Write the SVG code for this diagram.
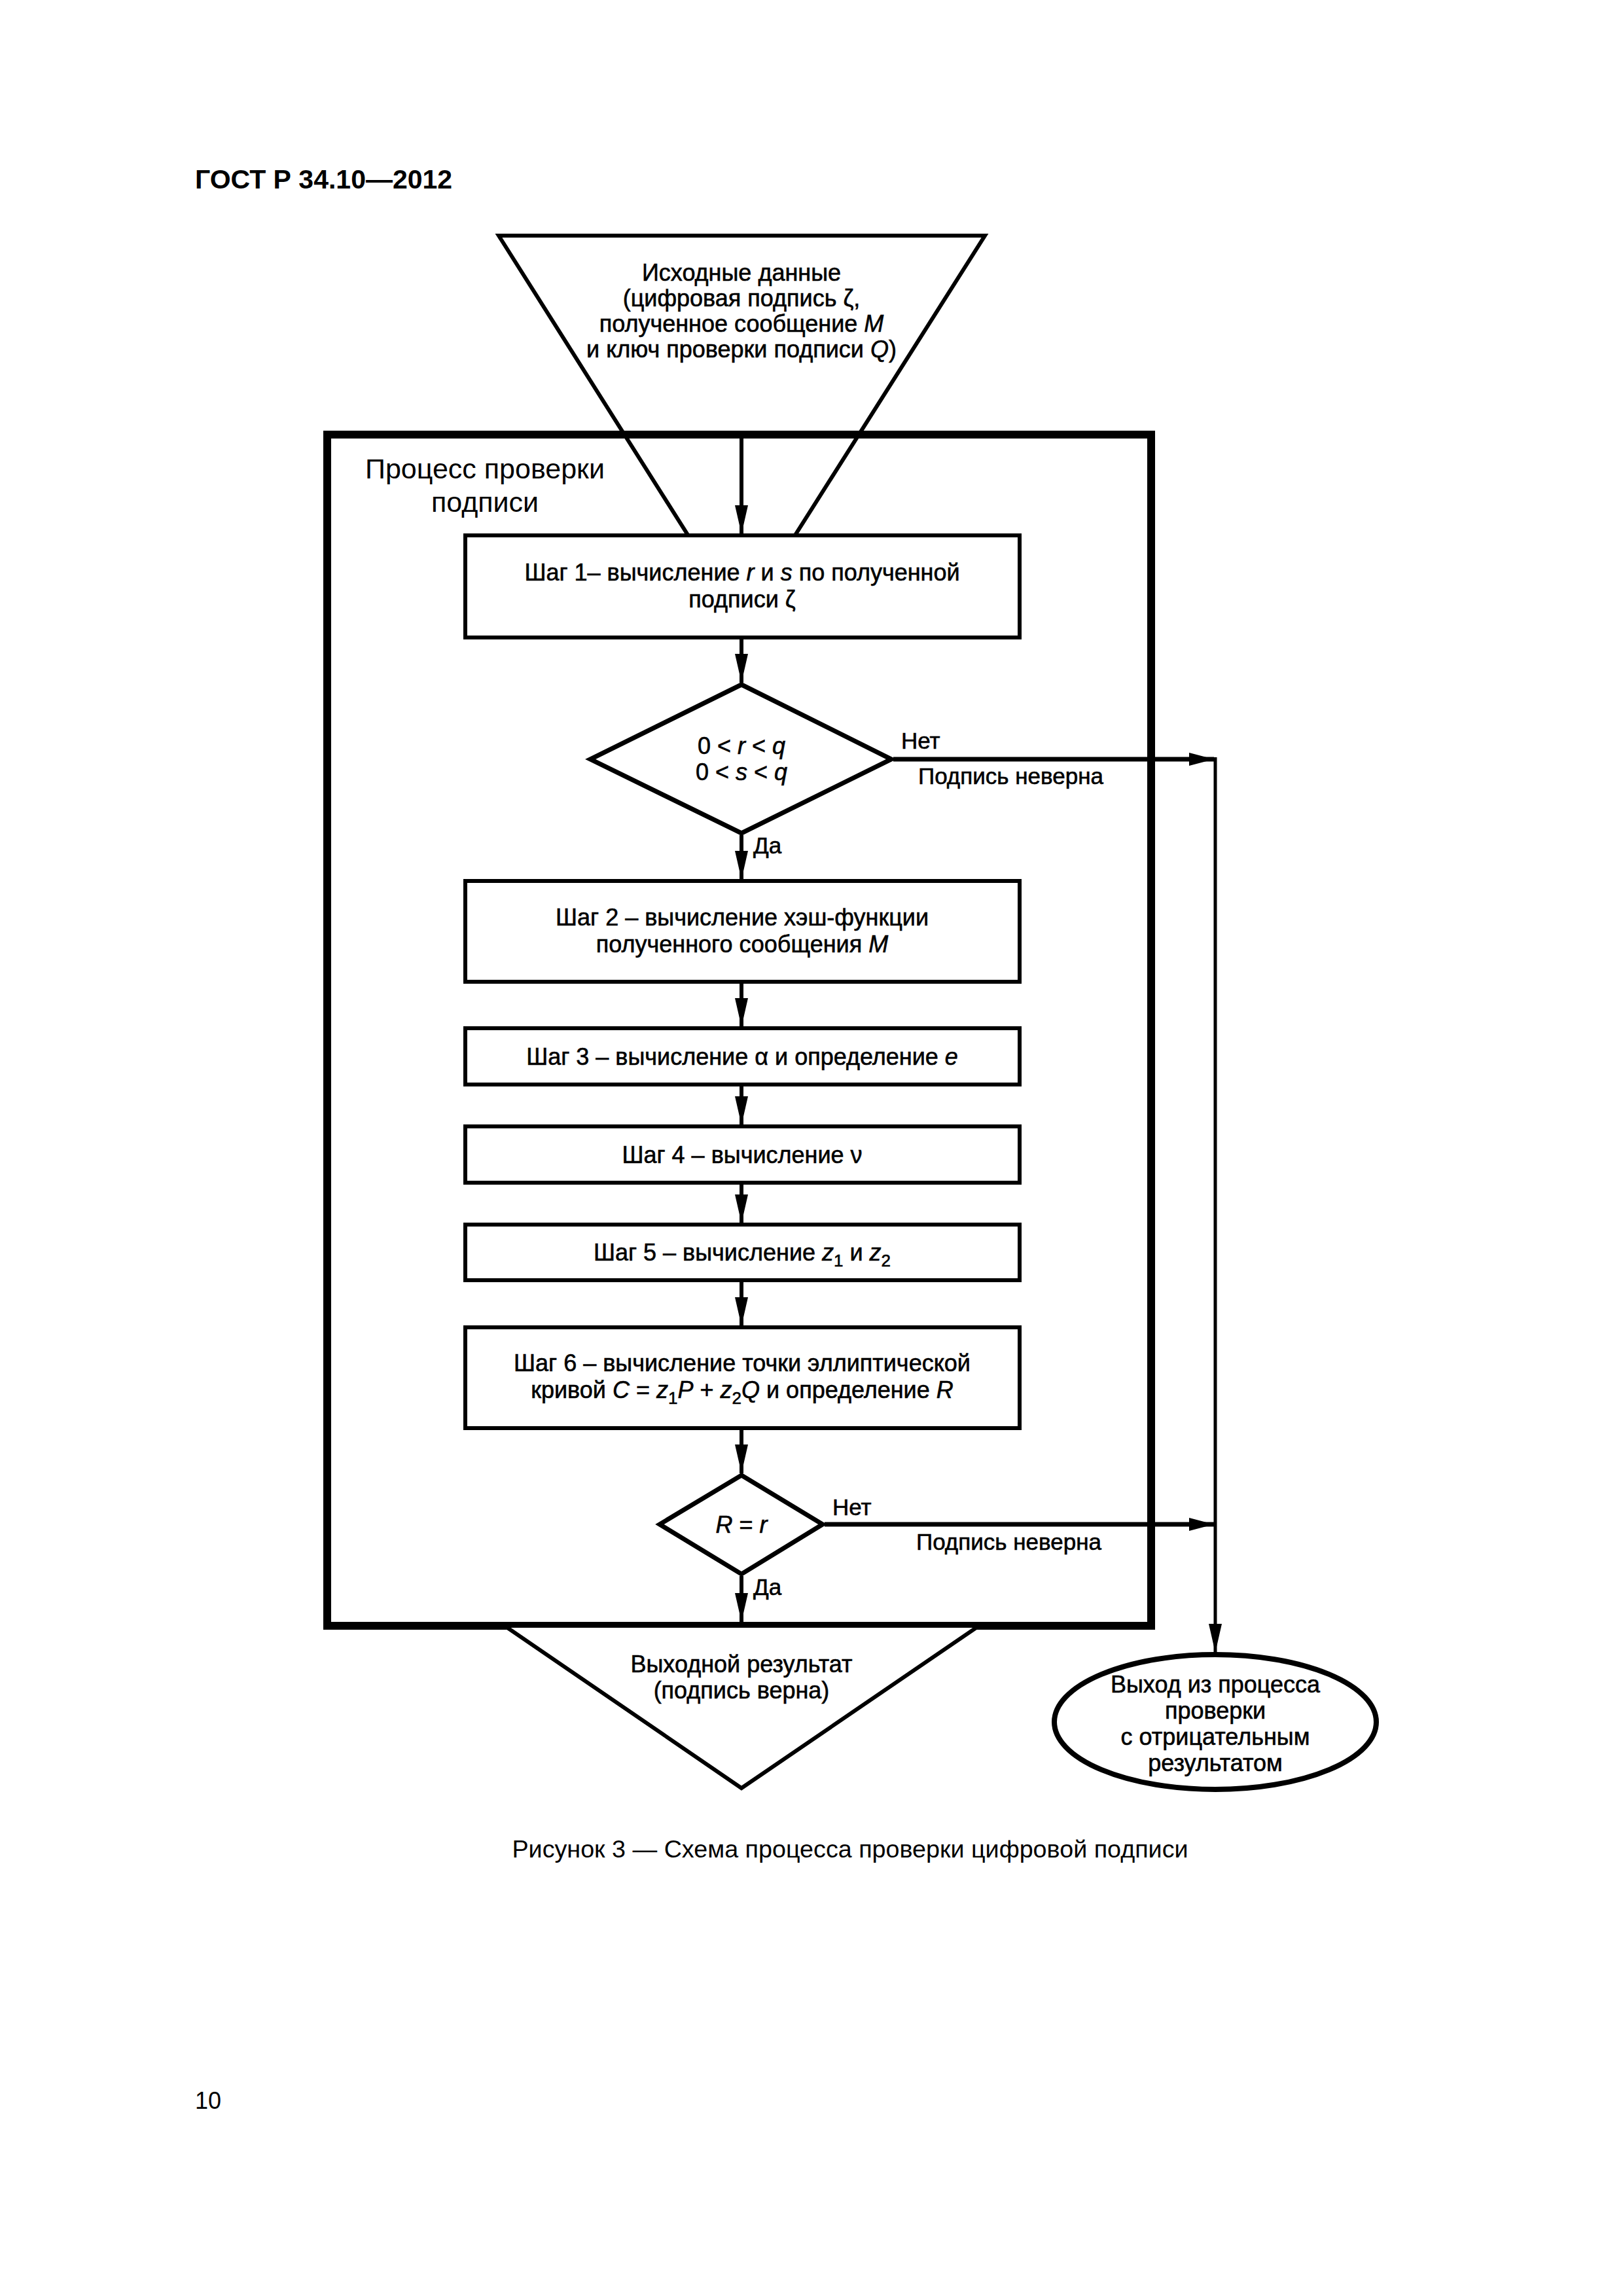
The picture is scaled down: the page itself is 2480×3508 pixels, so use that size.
<svg xmlns="http://www.w3.org/2000/svg" width="2480" height="3508" viewBox="0 0 2480 3508">
<style>
text{font-family:"Liberation Sans",Arial,sans-serif;fill:#000}
.t{font-size:36px;text-anchor:middle;stroke:#000;stroke-width:0.6}
.l{font-size:35px;stroke:#000;stroke-width:0.6}
.i{font-style:italic}
.sub{font-size:26px}
.box{fill:#fff;stroke:#000;stroke-width:6}
.dia{fill:#fff;stroke:#000;stroke-width:7}
.ln{fill:none;stroke:#000;stroke-width:6}
</style>
<defs>
<marker id="av" viewBox="0 0 44 20" refX="44" refY="10" markerWidth="44" markerHeight="20" markerUnits="userSpaceOnUse" orient="auto">
<path d="M0,0 L44,10 L0,20 Z" fill="#000"/>
</marker>
<marker id="ah" viewBox="0 0 38 20" refX="38" refY="10" markerWidth="38" markerHeight="20" markerUnits="userSpaceOnUse" orient="auto">
<path d="M0,0 L38,10 L0,20 Z" fill="#000"/>
</marker>
</defs>
<rect width="2480" height="3508" fill="#fff"/>
<text x="298" y="288" font-size="41" font-weight="bold">ГОСТ Р 34.10—2012</text>

<g id="input">
<polygon points="762,360 1505,360 1133,947" fill="none" stroke="#000" stroke-width="6"/>
<text class="t" x="1133" y="429">Исходные данные</text>
<text class="t" x="1133" y="468">(цифровая подпись ζ,</text>
<text class="t" x="1133" y="507">полученное сообщение <tspan class="i">M</tspan></text>
<text class="t" x="1133" y="546">и ключ проверки подписи <tspan class="i">Q</tspan>)</text>
</g>

<g id="process">
<rect x="500" y="664" width="1259" height="1820" fill="none" stroke="#000" stroke-width="12"/>
<text x="741" y="731" font-size="43" text-anchor="middle">Процесс проверки</text>
<text x="741" y="782" font-size="43" text-anchor="middle">подписи</text>
</g>

<g id="step1">
<rect class="box" x="711" y="818" width="847" height="156"/>
<text class="t" x="1134" y="887">Шаг 1– вычисление <tspan class="i">r</tspan> и <tspan class="i">s</tspan> по полученной</text>
<text class="t" x="1134" y="928">подписи ζ</text>
</g>

<g id="check1">
<polygon class="dia" points="1133,1046 1362,1160 1133,1273 902,1160"/>
<text class="t" x="1133" y="1152">0 &lt; <tspan class="i">r</tspan> &lt; <tspan class="i">q</tspan></text>
<text class="t" x="1133" y="1192">0 &lt; <tspan class="i">s</tspan> &lt; <tspan class="i">q</tspan></text>
</g>

<g id="step2">
<rect class="box" x="711" y="1346" width="847" height="154"/>
<text class="t" x="1134" y="1414">Шаг 2 – вычисление хэш-функции</text>
<text class="t" x="1134" y="1455">полученного сообщения <tspan class="i">M</tspan></text>
</g>

<g id="step3">
<rect class="box" x="711" y="1571" width="847" height="86"/>
<text class="t" x="1134" y="1627">Шаг 3 – вычисление α и определение <tspan class="i">e</tspan></text>
</g>

<g id="step4">
<rect class="box" x="711" y="1721" width="847" height="86"/>
<text class="t" x="1134" y="1777">Шаг 4 – вычисление ν</text>
</g>

<g id="step5">
<rect class="box" x="711" y="1871" width="847" height="85"/>
<text class="t" x="1134" y="1926">Шаг 5 – вычисление <tspan class="i">z</tspan><tspan class="sub" dy="9">1</tspan><tspan dy="-9"> и </tspan><tspan class="i">z</tspan><tspan class="sub" dy="9">2</tspan></text>
</g>

<g id="step6">
<rect class="box" x="711" y="2028" width="847" height="154"/>
<text class="t" x="1134" y="2095">Шаг 6 – вычисление точки эллиптической</text>
<text class="t" x="1134" y="2136">кривой <tspan class="i">C</tspan> = <tspan class="i">z</tspan><tspan class="sub" dy="9">1</tspan><tspan class="i" dy="-9">P</tspan> + <tspan class="i">z</tspan><tspan class="sub" dy="9">2</tspan><tspan class="i" dy="-9">Q</tspan> и определение <tspan class="i">R</tspan></text>
</g>

<g id="check2">
<polygon class="dia" points="1133,2254 1257,2329 1133,2405 1008,2329"/>
<text class="t" x="1133" y="2342"><tspan class="i">R</tspan> = <tspan class="i">r</tspan></text>
</g>

<g id="output">
<polygon points="771,2484 1496,2484 1133,2732" fill="#fff" stroke="#000" stroke-width="6"/>
<text class="t" x="1133" y="2555">Выходной результат</text>
<text class="t" x="1133" y="2595">(подпись верна)</text>
</g>

<g id="reject">
<ellipse cx="1857" cy="2631" rx="246" ry="103" fill="#fff" stroke="#000" stroke-width="8"/>
<text class="t" x="1857" y="2586">Выход из процесса</text>
<text class="t" x="1857" y="2626">проверки</text>
<text class="t" x="1857" y="2666">с отрицательным</text>
<text class="t" x="1857" y="2706">результатом</text>
</g>

<g id="connectors">
<line class="ln" x1="1133" y1="670" x2="1133" y2="816" marker-end="url(#av)"/>
<line class="ln" x1="1133" y1="977" x2="1133" y2="1043" marker-end="url(#av)"/>
<line class="ln" x1="1133" y1="1276" x2="1133" y2="1344" marker-end="url(#av)"/>
<line class="ln" x1="1133" y1="1503" x2="1133" y2="1569" marker-end="url(#av)"/>
<line class="ln" x1="1133" y1="1660" x2="1133" y2="1719" marker-end="url(#av)"/>
<line class="ln" x1="1133" y1="1810" x2="1133" y2="1869" marker-end="url(#av)"/>
<line class="ln" x1="1133" y1="1959" x2="1133" y2="2026" marker-end="url(#av)"/>
<line class="ln" x1="1133" y1="2185" x2="1133" y2="2251" marker-end="url(#av)"/>
<line class="ln" x1="1133" y1="2408" x2="1133" y2="2478" marker-end="url(#av)"/>
<line x1="1365" y1="1160" x2="1855" y2="1160" stroke="#000" stroke-width="7" marker-end="url(#ah)"/>
<line x1="1260" y1="2329" x2="1855" y2="2329" stroke="#000" stroke-width="7" marker-end="url(#ah)"/>
<line x1="1857" y1="1157" x2="1857" y2="2525" stroke="#000" stroke-width="5" marker-end="url(#av)"/>
<text class="l" x="1377" y="1144">Нет</text>
<text class="l" x="1403" y="1198">Подпись неверна</text>
<text class="l" x="1151" y="1304">Да</text>
<text class="l" x="1272" y="2315">Нет</text>
<text class="l" x="1400" y="2368">Подпись неверна</text>
<text class="l" x="1151" y="2437">Да</text>
</g>

<text x="1299" y="2838" font-size="37.7" text-anchor="middle">Рисунок 3 — Схема процесса проверки цифровой подписи</text>
<text x="298" y="3222" font-size="36">10</text>
</svg>
